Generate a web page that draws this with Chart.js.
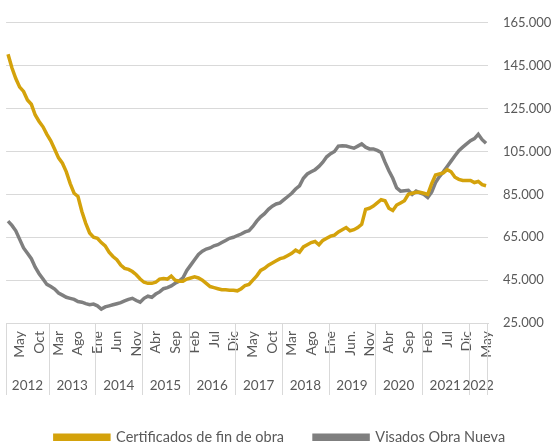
<!DOCTYPE html>
<html>
<head>
    <meta charset="utf-8">
    <title>Certificados y visados</title>
    <script src="https://cdn.jsdelivr.net/npm/chart.js"></script>
    <style>
        body { margin: 0; background: #ffffff; }
        #wrap { width: 554px; height: 446px; position: relative; }
    </style>
</head>
<body>
<div id="wrap"><canvas id="chart"></canvas></div>
<script>
    // meses: feb 2012 .. may 2022
    var years = ['2012', '2013', '2014', '2015', '2016', '2017', '2018', '2019', '2020', '2021', '2022'];
    var monthsInYear = [11, 12, 12, 12, 12, 12, 12, 12, 12, 12, 5];
    var monthAbbr = ['Ene', 'Feb', 'Mar', 'Abr', 'May', 'Jun', 'Jul', 'Ago', 'Sep', 'Oct', 'Nov', 'Dic'];
    var tickLabels = ['May', 'Oct', 'Mar', 'Ago', 'Ene', 'Jun', 'Nov', 'Abr', 'Sep', 'Feb', 'Jul', 'Dic', 'May',
        'Oct', 'Mar', 'Ago', 'Ene', 'Jun.', 'Nov', 'Abr', 'Sep', 'Feb', 'Jul', 'Dic', 'May'];
    var firstTick = 3, tickStep = 5;
    var yTicks = [25000, 45000, 65000, 85000, 105000, 125000, 145000, 165000];

    var certificados = [
        150300, 144000, 139000, 135000, 133000, 129000, 127000, 122000, 119000, 116500, 113000, 110000,
        106000, 102000, 99500, 95500, 90000, 85500, 84000, 77000, 71500, 67000, 65000, 64500,
        62500, 61000, 58000, 56000, 54500, 52000, 50500, 50000, 49000, 47500, 45500, 44000,
        43500, 43500, 44000, 45500, 45800, 45500, 46900, 45000, 44500, 44500, 45500, 46000,
        46500, 46000, 45000, 43500, 42000, 41500, 41000, 40500, 40500, 40300, 40300, 40000,
        41000, 42500, 43000, 45000, 47000, 49500, 50500, 52000, 53000, 54000, 55000, 55500,
        56500, 57500, 59000, 58000, 60500, 61500, 62500, 63000, 61500, 63500, 64500, 65500,
        66000, 67500, 68500, 69500, 68000, 68500, 69500, 71000, 78000, 78500, 79500, 81000,
        82500, 82000, 78500, 77500, 80000, 81000, 82000, 85000, 85500, 86000, 86000, 85500,
        85000, 90000, 94000, 94500, 95000, 96500, 95500, 93000, 92000, 91500, 91500, 91500,
        90500, 91000, 89500, 89000
    ];
    var visados = [
        72500, 70500, 68000, 64000, 60000, 57500, 55000, 51000, 48000, 45500, 43000, 42000,
        40800, 39000, 38000, 37000, 36500, 36000, 35000, 34700, 34000, 33500, 33800, 33000,
        31500, 32500, 33000, 33500, 34000, 34500, 35300, 36000, 36500, 35500, 34700, 36500,
        37500, 37000, 38500, 39500, 41000, 41500, 42300, 43500, 44500, 46000, 49500, 52000,
        54500, 57000, 58500, 59500, 60000, 61000, 61500, 62500, 63500, 64500, 65000, 65800,
        66500, 67500, 68000, 70000, 72500, 74500, 76000, 78000, 79500, 80500, 81000, 82500,
        84000, 85500, 87500, 89000, 92500, 94500, 95500, 96500, 98000, 100000, 102500, 104000,
        105000, 107500, 107700, 107500, 107000, 106500, 107500, 108500, 107000, 106200, 106200, 105500,
        104500, 100000, 96000, 92500, 88000, 86500, 86700, 86900, 85000, 86500, 85700, 85000,
        83500, 86000, 90500, 93300, 95500, 98000, 100500, 103000, 105400, 107000, 108500, 110000,
        111000, 113000, 110500, 108800
    ];

    var categories = [];
    years.forEach(function (y, k) {
        var start = k === 0 ? 12 - monthsInYear[0] : 0;
        for (var m = start; m < start + monthsInYear[k]; m++) {
            categories.push(monthAbbr[m] + ' ' + y);
        }
    });

    var textColor = '#595959';
    var gridColor = '#d9d9d9';
    var fontFamily = 'Lato, "Liberation Sans", sans-serif';

    function fmt(v) {
        return String(v).replace(/\B(?=(\d{3})+(?!\d))/g, '.');
    }

    // second row of the axis: years with separators
    var yearRow = {
        id: 'yearRow',
        beforeLayout: function (chart) {
            var lg = chart.legend;
            if (lg && !lg._patched) {
                var fit = lg.fit;
                lg.fit = function () { fit.call(this); this.height = 46; };
                lg._patched = true;
            }
        },
        afterDraw: function (chart) {
            var x = chart.scales.x, ctx = chart.ctx;
            var n = categories.length;
            function edge(i) {
                if (i <= 0) return x.left;
                if (i >= n) return x.right;
                return (x.getPixelForValue(i - 1) + x.getPixelForValue(i)) / 2;
            }
            ctx.save();
            ctx.strokeStyle = gridColor;
            ctx.lineWidth = 1;
            ctx.fillStyle = textColor;
            ctx.font = '13.5px ' + fontFamily;
            ctx.textAlign = 'center';
            ctx.textBaseline = 'middle';
            var start = 0;
            years.forEach(function (y, k) {
                var a = edge(start), b = edge(start + monthsInYear[k]);
                ctx.beginPath();
                ctx.moveTo(Math.round(a) + 0.5, x.top);
                ctx.lineTo(Math.round(a) + 0.5, x.top + 72);
                ctx.stroke();
                ctx.fillText(y, (a + b) / 2, x.top + 63);
                start += monthsInYear[k];
            });
            ctx.beginPath();
            ctx.moveTo(Math.round(x.right) - 0.5, x.top);
            ctx.lineTo(Math.round(x.right) - 0.5, x.top + 72);
            ctx.stroke();
            ctx.restore();
        }
    };

    var ctx = document.getElementById('chart').getContext('2d');
    var chart = new Chart(ctx, {
        type: 'line',
        data: {
            labels: categories,
            datasets: [{
                label: 'Certificados de fin de obra',
                data: certificados,
                borderColor: '#d4a20b',
                backgroundColor: '#d4a20b',
                borderWidth: 3.5,
                pointRadius: 0,
                tension: 0
            }, {
                label: 'Visados Obra Nueva',
                data: visados,
                borderColor: '#7f7f7f',
                backgroundColor: '#7f7f7f',
                borderWidth: 3.5,
                pointRadius: 0,
                tension: 0
            }]
        },
        options: {
            responsive: true,
            maintainAspectRatio: false,
            animation: false,
            layout: { padding: { top: 16, left: 6, right: 0, bottom: 0 } },
            plugins: {
                tooltip: { enabled: false },
                legend: {
                    position: 'bottom',
                    labels: {
                        boxWidth: 54,
                        boxHeight: 4,
                        padding: 30,
                        color: textColor,
                        font: { family: fontFamily, size: 14.5 }
                    }
                }
            },
            scales: {
                x: {
                    offset: true,
                    grid: { drawOnChartArea: false, drawTicks: false },
                    border: { color: gridColor, width: 1 },
                    afterFit: function (scale) { scale.height = 77; },
                    ticks: {
                        autoSkip: false,
                        minRotation: 90,
                        maxRotation: 90,
                        padding: 8,
                        color: textColor,
                        font: { family: fontFamily, size: 14 },
                        callback: function (value, index) {
                            var k = index - firstTick;
                            return k >= 0 && k % tickStep === 0 ? tickLabels[k / tickStep] : '';
                        }
                    }
                },
                y: {
                    position: 'right',
                    min: yTicks[0],
                    max: yTicks[yTicks.length - 1],
                    afterBuildTicks: function (scale) {
                        scale.ticks = yTicks.map(function (v) { return { value: v }; });
                    },
                    afterFit: function (scale) { scale.width = 66; },
                    grid: { color: gridColor, lineWidth: 1, drawTicks: false },
                    border: { display: false },
                    ticks: {
                        padding: 15,
                        color: textColor,
                        font: { family: fontFamily, size: 13 },
                        callback: function (v) { return fmt(v); }
                    }
                }
            }
        },
        plugins: [yearRow]
    });
</script>
</body>
</html>
